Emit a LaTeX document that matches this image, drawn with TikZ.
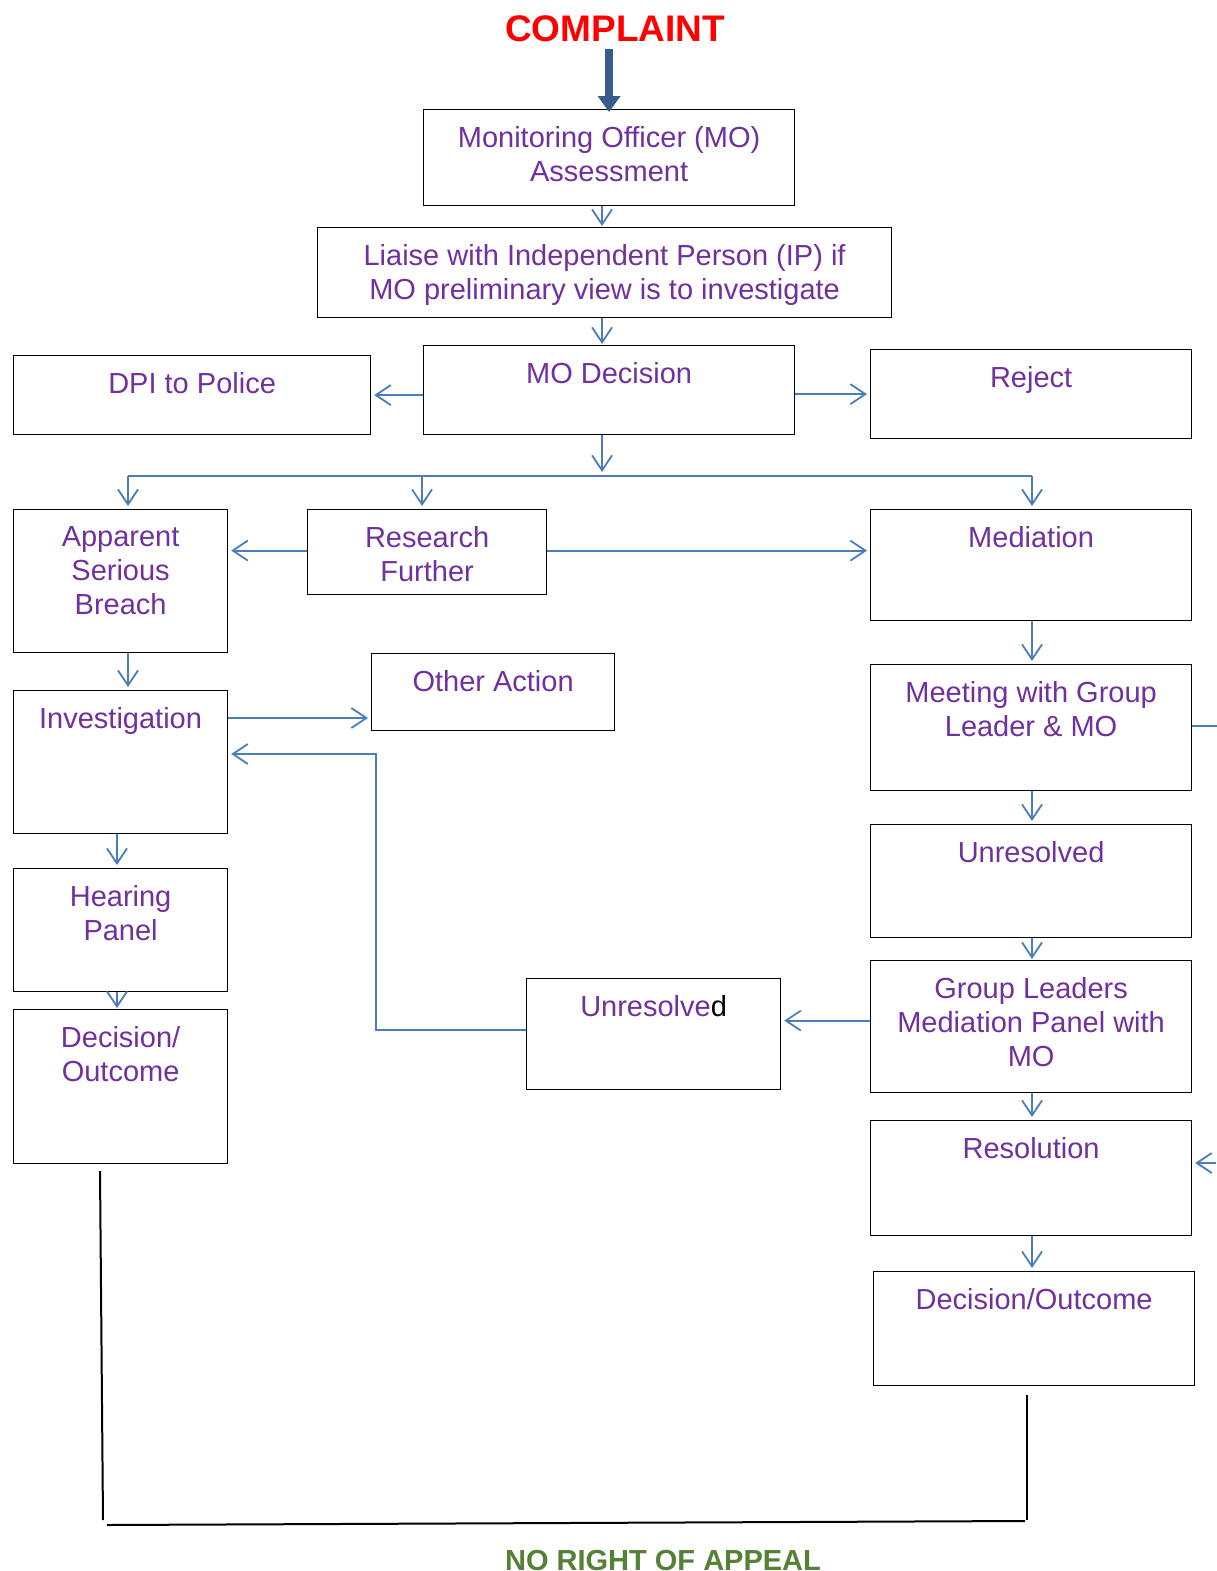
\documentclass[tikz,border=0pt]{standalone}
\usepackage{fontspec}
\setmainfont{Liberation Sans}
\usetikzlibrary{arrows.meta,calc}
\definecolor{txtpurple}{HTML}{7030A0}
\definecolor{connblue}{HTML}{4A7EBB}
\definecolor{bigblue}{HTML}{385D8A}
\definecolor{appealgreen}{HTML}{538135}
\begin{document}
\begin{tikzpicture}[x=1pt,y=-1pt,
  box/.style={draw=black,line width=1.2pt,rectangle,inner sep=0pt,anchor=north west},
  lbl/.style={anchor=north,inner sep=0pt,yshift=-17.5pt,align=center,text=txtpurple,
    font=\fontsize{29}{34}\selectfont},
  conn/.style={draw=connblue,line width=1.8pt,-{Straight Barb[length=15pt,width=20pt,line width=1.8pt]},shorten >=3pt},
  plain/.style={draw=connblue,line width=1.8pt},
  bline/.style={draw=black,line width=2pt},
  bigarrow/.style={draw=bigblue,line width=8pt,-{Triangle[length=16pt,width=22pt]}}
]
\useasboundingbox (0,0) rectangle (1216,1571);

% title
\node[anchor=base,inner sep=0pt,text=red,font=\fontsize{37}{40}\selectfont\bfseries] (complaint) at (615,42) {COMPLAINT};

% boxes
\node[box,minimum width=371pt,minimum height=96pt,label={[lbl]north:{Monitoring Officer (MO)\\Assessment}}] (mo) at (423,109) {};
\node[box,minimum width=574pt,minimum height=90pt,label={[lbl]north:{Liaise with Independent Person (IP) if\\MO preliminary view is to investigate}}] (liaise) at (317,227) {};
\node[box,minimum width=357pt,minimum height=79pt,label={[lbl]north:{DPI to Police}}] (dpi) at (13,355) {};
\node[box,minimum width=371pt,minimum height=89pt,label={[lbl]north:{MO Decision}}] (dec) at (423,345) {};
\node[box,minimum width=321pt,minimum height=89pt,label={[lbl]north:{Reject}}] (rej) at (870,349) {};
\node[box,minimum width=214pt,minimum height=143pt,label={[lbl]north:{Apparent\\Serious\\Breach}}] (asb) at (13,509) {};
\node[box,minimum width=239pt,minimum height=85pt,label={[lbl]north:{Research\\Further}}] (rf) at (307,509) {};
\node[box,minimum width=321pt,minimum height=111pt,label={[lbl]north:{Mediation}}] (med) at (870,509) {};
\node[box,minimum width=243pt,minimum height=77pt,label={[lbl]north:{Other Action}}] (oa) at (371,653) {};
\node[box,minimum width=321pt,minimum height=126pt,label={[lbl]north:{Meeting with Group\\Leader \& MO}}] (meet) at (870,664) {};
\node[box,minimum width=214pt,minimum height=143pt,label={[lbl]north:{Investigation}}] (inv) at (13,690) {};
\node[box,minimum width=321pt,minimum height=113pt,label={[lbl]north:{Unresolved}}] (ur) at (870,824) {};
\node[box,minimum width=214pt,minimum height=123pt,label={[lbl]north:{Hearing\\Panel}}] (hp) at (13,868) {};
\node[box,minimum width=321pt,minimum height=132pt,label={[lbl]north:{Group Leaders\\Mediation Panel with\\MO}}] (gl) at (870,960) {};
\node[box,minimum width=254pt,minimum height=111pt,label={[lbl]north:{Unresolve\textcolor{black}{d}}}] (um) at (526,978) {};
\node[box,minimum width=214pt,minimum height=154pt,label={[lbl]north:{Decision/\\Outcome}}] (dol) at (13,1009) {};
\node[box,minimum width=321pt,minimum height=115pt,label={[lbl]north:{Resolution}}] (res) at (870,1120) {};
\node[box,minimum width=321pt,minimum height=114pt,label={[lbl]north:{Decision/Outcome}}] (dor) at (873,1271) {};

% big arrow
\draw[bigarrow,shorten <=6pt] (complaint.south -| mo.north) -- ([yshift=-3pt]mo.north);

% connectors
\coordinate (cx) at (602,0);
\draw[conn,shorten >=1pt] (mo.south -| cx) -- (liaise.north -| cx);
\draw[conn,shorten >=1pt] (liaise.south -| cx) -- (dec.north -| cx);
\draw[conn] (dpi.east -| dec.west) -- (dpi.east);
\draw[conn] (rej.west -| dec.east) -- (rej.west);
\coordinate (jl) at (128,476);
\coordinate (jm) at (422,476);
\coordinate (jr) at (1032,476);
\draw[conn,shorten >=4pt] (dec.south -| cx) -- (jl -| cx);
\draw[plain] (jl) -- (jr);
\draw[conn] (jl) -- (jl |- asb.north);
\draw[conn] (jm) -- (jm |- rf.north);
\draw[conn] (jr) -- (jr |- med.north);
\draw[conn] ([yshift=1.5pt]rf.west) -- ([yshift=1.5pt]rf.west -| asb.east);
\draw[conn] ([yshift=1.5pt]rf.east) -- ([yshift=1.5pt]rf.east -| med.west);
\draw[conn] (jl |- asb.south) -- (jl |- inv.north);
\draw[conn] (jr |- med.south) -- (jr |- meet.north);
\draw[conn] ([yshift=-28pt]inv.north east) -- ([yshift=-28pt]inv.north east -| oa.west);
\draw[conn] (jr |- meet.south) -- (jr |- ur.north);
\draw[plain] ([yshift=2pt]meet.east) -- ++(30,0);
\coordinate (hx) at (117,0);
\draw[conn] (inv.south -| hx) -- (hp.north -| hx);
\draw[conn,shorten >=1pt] (jr |- ur.south) -- (jr |- gl.north);
\draw[conn,shorten >=1pt] (hp.south -| hx) -- (dol.north -| hx);
\draw[conn] ([yshift=6pt]gl.west) -- ([yshift=6pt]gl.west -| um.east);
\coordinate (bend) at (376,754);
\draw[conn] ([yshift=4.5pt]um.west) -| (bend) -- (bend -| inv.east);
\draw[conn] (jr |- gl.south) -- (jr |- res.north);
\coordinate (rin) at (1216,1163);
\draw[conn] (rin) -- (rin -| res.east);
\draw[conn] (jr |- res.south) -- (jr |- dor.north);

% black lines
\coordinate (b1) at (100,1171);
\coordinate (b2) at (103,1520);
\coordinate (b3) at (107,1525);
\coordinate (b4) at (1025,1521);
\coordinate (b5) at (1027,1395);
\coordinate (b6) at (1027,1520);
\draw[bline] (b1) -- (b2);
\draw[bline] (b3) -- (b4);
\draw[bline] (b5) -- (b6);

\node[anchor=north,inner sep=0pt,text=appealgreen,font=\fontsize{29}{32}\selectfont\bfseries] (appeal) at (663,1550) {NO RIGHT OF APPEAL};
\end{tikzpicture}
\end{document}
